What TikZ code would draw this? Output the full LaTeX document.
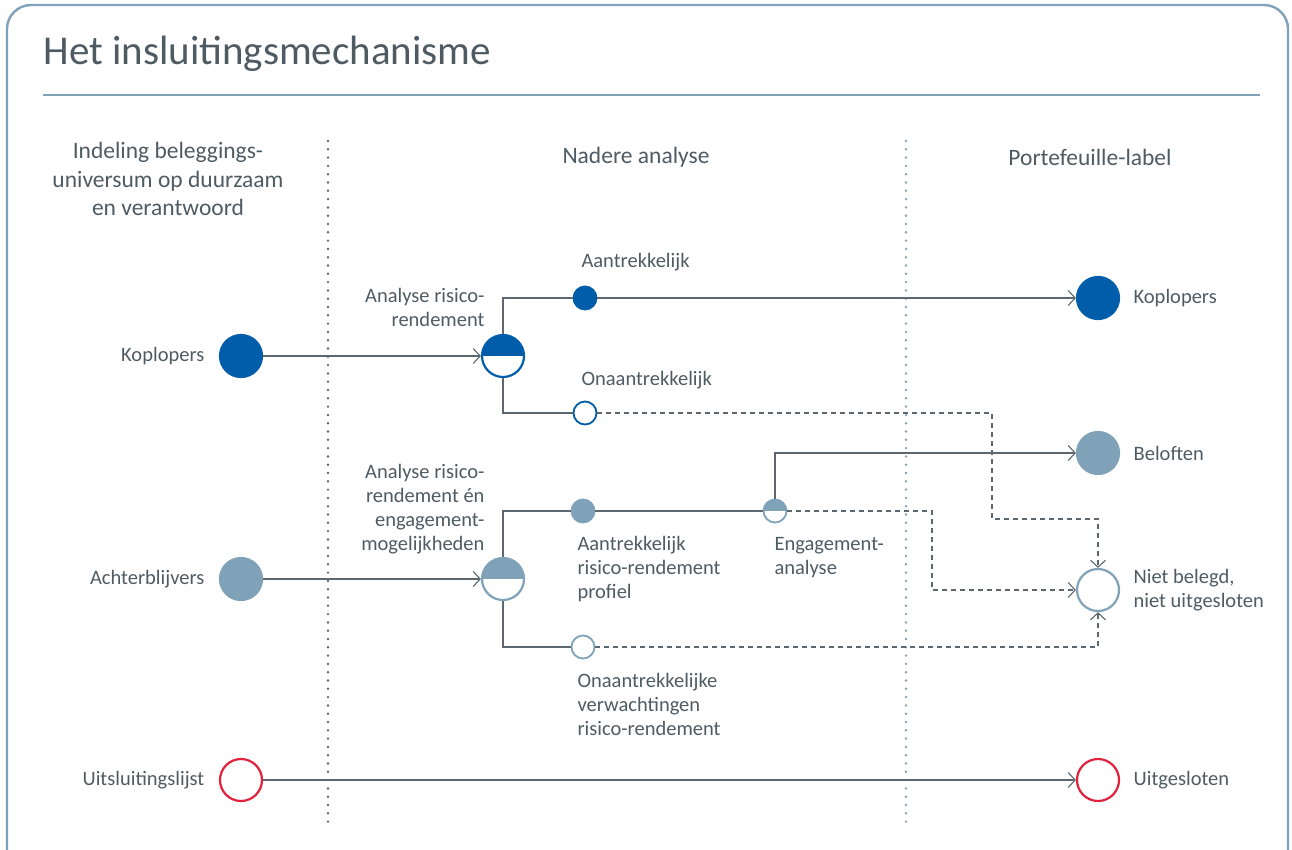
\documentclass[tikz,border=0pt]{standalone}
\usepackage{fontspec}
\setmainfont{Carlito}
\usetikzlibrary{arrows.meta, positioning}

\definecolor{donkerblauw}{HTML}{005DAA}
\definecolor{grijsblauw}{HTML}{7FA2B8}
\definecolor{rood}{HTML}{E2213D}
\definecolor{lijngrijs}{HTML}{5C6770}
\definecolor{tekstgrijs}{HTML}{4F5B63}

\begin{document}
\begin{tikzpicture}[
		x=1pt, y=-1pt,
		font=\fontsize{20.5}{24}\selectfont, text=tekstgrijs,
		% --- bollen ---
		bol/.style = {circle, minimum size=42pt, inner sep=0pt, line width=2.2pt},
		bolklein/.style = {circle, minimum size=23pt, inner sep=0pt, line width=1.8pt},
		vol/.style = {draw=#1, fill=#1},
		leeg/.style = {draw=#1, fill=white},
		half/.style = {draw=#1, fill=white, path picture={\fill[#1] (path picture bounding box.north west) rectangle (path picture bounding box.east);}},
		% --- lijnen ---
		stroom/.style = {draw=lijngrijs, line width=1.1pt},
		pijl/.style = {stroom, -{Straight Barb[length=7pt, width=15pt, line width=1.1pt]}},
		stippel/.style = {pijl, dash pattern=on 5pt off 4pt},
		scheiding/.style = {line width=2.7pt, line cap=round, dash pattern=on 0pt off 8.3pt},
		kop/.style = {align=center, font=\fontsize{23.5}{28.5}\selectfont},
		label/.style = {align=left, anchor=west}
		]
		
		\useasboundingbox (0,0) rectangle (1292,849);
		
		% =========================================================================
		% 1. KADER EN TITEL
		% =========================================================================
		\draw[grijsblauw, line width=2.4pt, rounded corners=24pt] (7,5) rectangle (1288,880);
		\node[anchor=west, font=\fontsize{41}{44}\selectfont] (titel) at (40,54) {Het insluitingsmechanisme};
		\draw[grijsblauw, line width=2pt] (43,95) -- (1260,95);
		
		% kolomkoppen
		\node[kop] (kop1) at (168,179) {Indeling beleggings-\\universum op duurzaam\\en verantwoord};
		\node[kop] (kop2) at (636,157) {Nadere analyse};
		\node[kop] (kop3) at (1090,157) {Portefeuille-label};
		
		% scheidingslijnen
		\draw[scheiding, lijngrijs] (328,141) -- (328,826);
		\draw[scheiding, grijsblauw] (906,141) -- (906,826);
		
		% =========================================================================
		% 2. BOLLEN
		% =========================================================================
		% links
		\node[bol, vol=donkerblauw] (koplopers) at (241,356) {};
		\node[bol, vol=grijsblauw] (achterblijvers) at (241,579) {};
		\node[bol, leeg=rood] (uitsluiting) at (241,780) {};
		\node[left=11pt of koplopers] {Koplopers};
		\node[left=11pt of achterblijvers] {Achterblijvers};
		\node[left=11pt of uitsluiting] {Uitsluitingslijst};
		
		% midden
		\node[bol, half=donkerblauw] (analyse1) at (503,356) {};
		\node[bol, half=grijsblauw] (analyse2) at (503,579) {};
		\node[bolklein, vol=donkerblauw] (aantr1) at (585,298) {};
		\node[bolklein, leeg=donkerblauw] (onaantr1) at (585,413) {};
		\node[bolklein, vol=grijsblauw] (aantr2) at (583,511) {};
		\node[bolklein, half=grijsblauw] (engagement) at (775,511) {};
		\node[bolklein, leeg=grijsblauw] (onaantr2) at (583,647) {};
		
		% rechts
		\node[bol, vol=donkerblauw] (koplopers_r) at (1098,298) {};
		\node[bol, vol=grijsblauw] (beloften) at (1098,453) {};
		\node[bol, leeg=grijsblauw] (nietbelegd) at (1098,590) {};
		\node[bol, leeg=rood] (uitgesloten) at (1098,780) {};
		\node[right=10pt of koplopers_r] {Koplopers};
		\node[right=10pt of beloften] {Beloften};
		\node[label, right=10pt of nietbelegd] {Niet belegd,\\niet uitgesloten};
		\node[right=10pt of uitgesloten] {Uitgesloten};
		
		% teksten bij de analyse
		\node[anchor=east, align=right] at (488,307) {Analyse risico-\\rendement};
		\node[anchor=east, align=right] at (488,509) {Analyse risico-\\rendement én\\engagement-\\mogelijkheden};
		\node[label] at (578,262) {Aantrekkelijk};
		\node[label] at (578,380) {Onaantrekkelijk};
		\node[label] at (574,569) {Aantrekkelijk\\risico-rendement\\profiel};
		\node[label] at (771,558) {Engagement-\\analyse};
		\node[label] at (574,704) {Onaantrekkelijke\\verwachtingen\\risico-rendement};
		
		% =========================================================================
		% 3. VERBINDINGEN
		% =========================================================================
		\coordinate (knik1) at (992,519);
		\coordinate (knik2) at (932,590);
		
		\draw[pijl] (koplopers) -- (analyse1);
		\draw[pijl] (achterblijvers) -- (analyse2);
		\draw[pijl] (uitsluiting) -- (uitgesloten);
		
		\draw[stroom] (analyse1.north) |- (aantr1);
		\draw[pijl] (aantr1) -- (koplopers_r);
		\draw[stroom] (analyse1.south) |- (onaantr1);
		\draw[stippel] (onaantr1) -| (knik1) -| (nietbelegd);
		
		\draw[stroom] (analyse2.north) |- (aantr2);
		\draw[stroom] (aantr2) -- (engagement);
		\draw[pijl] (engagement.north) |- (beloften);
		\draw[stippel] (engagement) -| (knik2) -- (nietbelegd);
		\draw[stroom] (analyse2.south) |- (onaantr2);
		\draw[stippel] (onaantr2) -| (nietbelegd);
		
\end{tikzpicture}
\end{document}
